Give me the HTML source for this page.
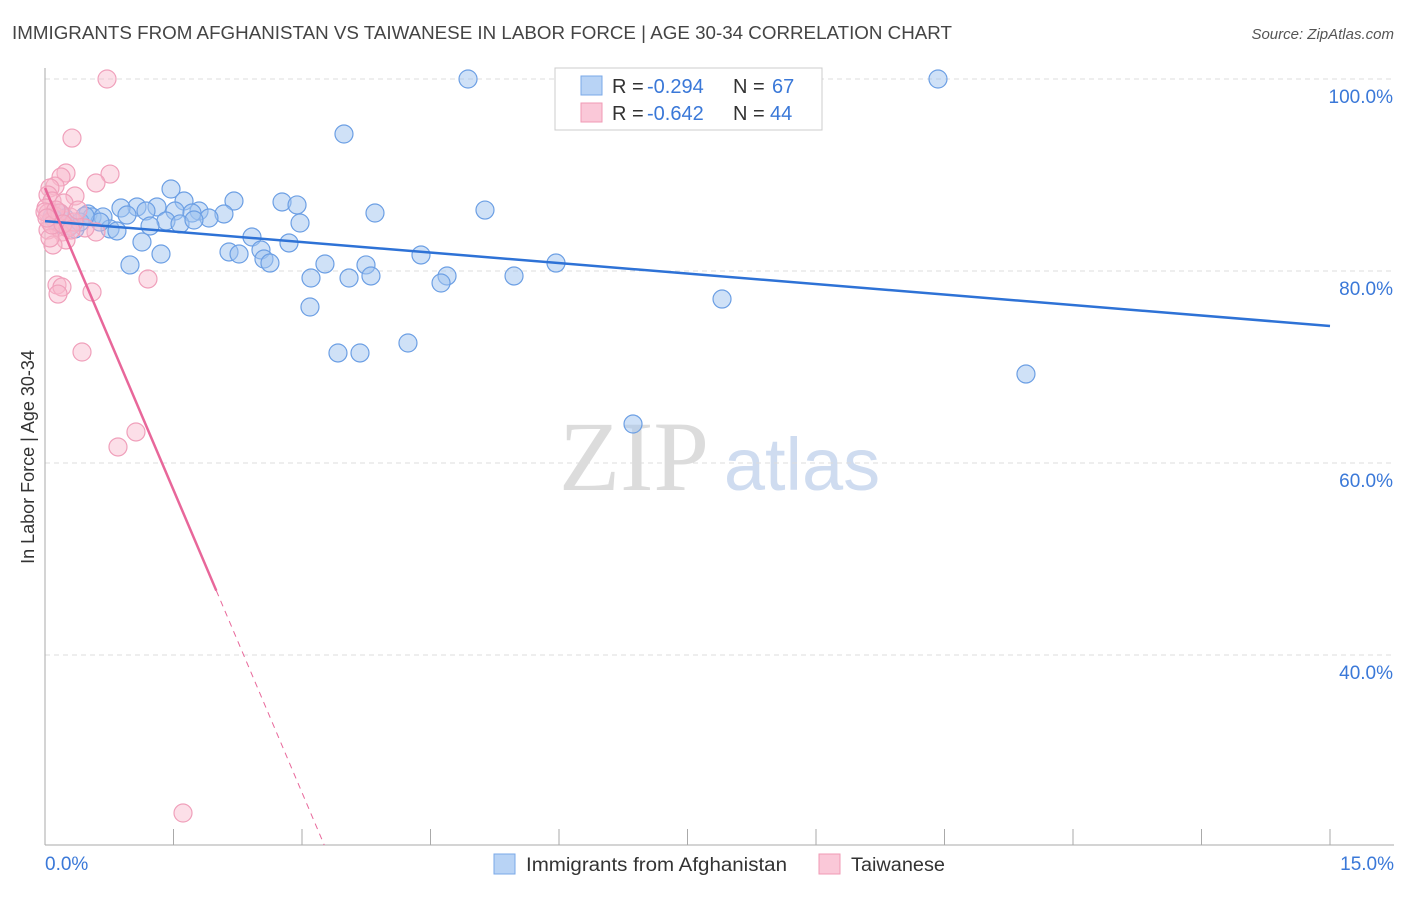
<!DOCTYPE html>
<html><head><meta charset="utf-8"><style>
body{margin:0;background:#fff;font-family:"Liberation Sans",sans-serif;}
svg text{font-family:"Liberation Sans",sans-serif;}
</style></head><body>
<svg id="chart" width="1406" height="892" xmlns="http://www.w3.org/2000/svg">
<text x="12" y="39" font-size="18" fill="#444" textLength="940" lengthAdjust="spacingAndGlyphs">IMMIGRANTS FROM AFGHANISTAN VS TAIWANESE IN LABOR FORCE | AGE 30-34 CORRELATION CHART</text>
<text x="1394" y="39" font-size="15" fill="#555" text-anchor="end" font-style="italic">Source: ZipAtlas.com</text>
<g>
<text x="634" y="490" font-size="100" fill="#dcdcdc" style="font-family:'Liberation Serif',serif" text-anchor="middle">ZIP</text>
<text x="802" y="490" font-size="74" fill="#cfdcf0" text-anchor="middle">atlas</text>
</g>
<g id="grid"></g>
<g id="axes"></g>
<g id="blue-pts"></g>
<g id="pink-pts"></g>
<g id="lines"></g>
<text transform="translate(34,457) rotate(-90)" font-size="18" fill="#333" text-anchor="middle">In Labor Force | Age 30-34</text>
<g>
<rect x="555" y="68" width="267" height="62" fill="#fff" stroke="#ccc"/>
<rect x="581" y="76" width="21" height="19" fill="#b8d3f5" stroke="#7aa8e8"/>
<rect x="581" y="103" width="21" height="19" fill="#fac8d8" stroke="#f09ab5"/>
<text x="612" y="93" font-size="20" fill="#333">R =</text>
<text x="647" y="93" font-size="20" fill="#3a78d8">-0.294</text>
<text x="733" y="93" font-size="20" fill="#333">N =</text>
<text x="772" y="93" font-size="20" fill="#3a78d8">67</text>
<text x="612" y="120" font-size="20" fill="#333">R =</text>
<text x="647" y="120" font-size="20" fill="#3a78d8">-0.642</text>
<text x="733" y="120" font-size="20" fill="#333">N =</text>
<text x="770" y="120" font-size="20" fill="#3a78d8">44</text>
</g>
<g>
<rect x="494" y="854" width="21" height="20" fill="#b8d3f5" stroke="#7aa8e8"/>
<text x="526" y="871" font-size="19" fill="#333" textLength="261" lengthAdjust="spacingAndGlyphs">Immigrants from Afghanistan</text>
<rect x="819" y="854" width="21" height="20" fill="#fac8d8" stroke="#f09ab5"/>
<text x="851" y="871" font-size="19" fill="#333" textLength="94" lengthAdjust="spacingAndGlyphs">Taiwanese</text>
</g>
</svg>
<script>
const bluePx=[[468,79],[938,79],[344,134],[171,189],[234,201],[184,201],[282,202],[297,205],[137,207],[157,207],[121,208],[146,211],[175,211],[199,211],[224,214],[192,213],[375,213],[485,210],[59,213],[88,214],[92,217],[103,217],[127,215],[209,218],[300,223],[166,221],[180,224],[194,220],[150,226],[110,229],[117,231],[75,229],[142,242],[252,237],[289,243],[229,252],[239,254],[161,254],[261,250],[264,259],[270,263],[421,255],[130,265],[325,264],[366,265],[556,263],[311,278],[349,278],[371,276],[447,276],[441,283],[514,276],[310,307],[722,299],[338,353],[360,353],[408,343],[1026,374],[633,424],[60,224],[70,226],[55,220],[80,222],[65,218],[100,222],[85,216],[52,217]];
const pinkPx=[[107,79],[72,138],[66,173],[110,174],[61,177],[96,183],[55,186],[50,188],[75,196],[48,195],[52,201],[64,203],[46,208],[48,213],[55,216],[70,217],[50,222],[58,227],[48,230],[62,232],[96,232],[85,228],[66,240],[53,245],[50,238],[57,285],[62,287],[58,294],[92,292],[148,279],[82,352],[136,432],[118,447],[183,813],[45,212],[52,225],[60,213],[68,228],[74,222],[56,210],[47,218],[78,210],[63,224],[71,230]];
// data values (x in %, y in %) derived from the picture
const blueX=bluePx.map(p=>+((p[0]-45)/1285*15).toFixed(3));
const blueY=bluePx.map(p=>+(100-(p[1]-79)/9.6).toFixed(2));
const pinkX=pinkPx.map(p=>+((p[0]-45)/1285*15).toFixed(3));
const pinkY=pinkPx.map(p=>+(100-(p[1]-79)/9.6).toFixed(2));
const blueTrend=[[0,85.2],[15,74.27]];
const pinkTrend=[[0,88.65],[2.0,46.7],[3.26,20.2]];
const yTicks=[100,80,60,40];
const yTickLabels=["100.0%","80.0%","60.0%","40.0%"];
const xTicks=[0,1.5,3,4.5,6,7.5,9,10.5,12,13.5,15];

const NS="http://www.w3.org/2000/svg";
const sx=v=>45+v/15*1285;
const sy=v=>79+(100-v)*9.6;
function mk(tag,attrs,parent){const e=document.createElementNS(NS,tag);for(const k in attrs)e.setAttribute(k,attrs[k]);parent.appendChild(e);return e;}
const grid=document.getElementById('grid'),axes=document.getElementById('axes');
yTicks.forEach((t,i)=>{
 const l=mk('line',{x1:45,x2:1394,y1:sy(t),y2:sy(t),stroke:'#ddd','stroke-dasharray':'5,4'},grid);
 
 
 const tx=mk('text',{x:1393,y:sy(t)+24,'font-size':19,fill:'#3a78d8','text-anchor':'end'},axes);
 tx.textContent=yTickLabels[i];
 
 
});
const ax=mk('line',{x1:45,x2:45,y1:68,y2:845,stroke:'#aaa'},axes);


const bx=mk('line',{x1:45,x2:1394,y1:845,y2:845,stroke:'#aaa'},axes);


xTicks.forEach(t=>{
 const l=mk('line',{x1:sx(t),x2:sx(t),y1:829,y2:845,stroke:'#aaa'},axes);
 
 
});
const xl0=mk('text',{x:45,y:870,'font-size':19,fill:'#3a78d8'},axes);xl0.textContent='0.0%';


const xl1=mk('text',{x:1394,y:870,'font-size':19,fill:'#3a78d8','text-anchor':'end'},axes);xl1.textContent='15.0%';


const bp=document.getElementById('blue-pts');
blueX.forEach((x,i)=>{
 const c=mk('circle',{cx:sx(x),cy:sy(blueY[i]),r:9,fill:'rgba(160,195,240,0.5)',stroke:'#6c9fe4','stroke-width':1.2},bp);
 
 
});
const pp=document.getElementById('pink-pts');
pinkX.forEach((x,i)=>{
 const c=mk('circle',{cx:sx(x),cy:sy(pinkY[i]),r:9,fill:'rgba(248,185,205,0.45)',stroke:'#f0a0bb','stroke-width':1.2},pp);
 
 
});
const ln=document.getElementById('lines');
const bl=mk('line',{x1:sx(blueTrend[0][0]),y1:sy(blueTrend[0][1]),x2:sx(blueTrend[1][0]),y2:sy(blueTrend[1][1]),stroke:'#2e72d6','stroke-width':2.5},ln);


const pl=mk('line',{x1:sx(pinkTrend[0][0]),y1:sy(pinkTrend[0][1]),x2:sx(pinkTrend[1][0]),y2:sy(pinkTrend[1][1]),stroke:'#e8679a','stroke-width':2.5},ln);


const pd=mk('line',{x1:sx(pinkTrend[1][0]),y1:sy(pinkTrend[1][1]),x2:sx(pinkTrend[2][0]),y2:sy(pinkTrend[2][1]),stroke:'#e8679a','stroke-width':1,'stroke-dasharray':'6,5'},ln);


</script>
</body></html>
